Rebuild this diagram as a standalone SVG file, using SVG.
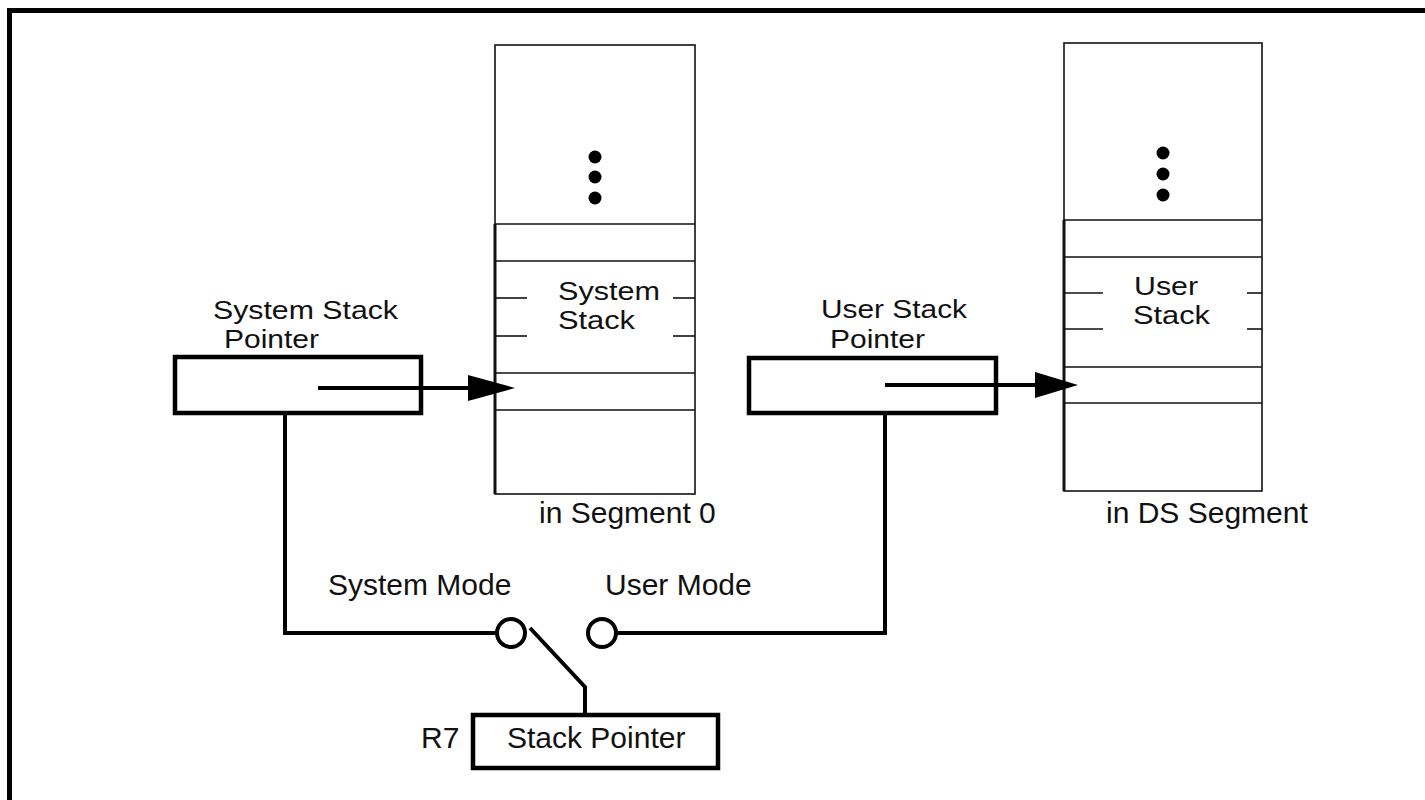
<svg xmlns="http://www.w3.org/2000/svg" width="1425" height="800" viewBox="0 0 1425 800">
<style>
text{font-family:"Liberation Sans",Arial,sans-serif;font-size:30px;fill:#111}
.tight{font-size:26.5px}
.thin{stroke:#111;stroke-width:1.6;fill:none}
.edge{stroke:#111;stroke-width:3;fill:none}
.box{stroke:#000;stroke-width:4.5;fill:#fff}
.wire{stroke:#000;stroke-width:4;fill:none}
.dot{fill:#000}
.head{fill:#000}
</style>
<rect x="9.5" y="10.5" width="1430" height="800" fill="#fff" stroke="#000" stroke-width="5"/>

<g id="system-stack">
<rect x="495" y="45" width="200" height="449" class="thin" fill="#fff"/>
<line x1="495" y1="224" x2="495" y2="494" class="edge"/>
<line x1="495" y1="224" x2="695" y2="224" class="thin"/>
<line x1="495" y1="261" x2="695" y2="261" class="thin"/>
<line x1="495" y1="373" x2="695" y2="373" class="thin"/>
<line x1="495" y1="410" x2="695" y2="410" class="thin"/>
<line x1="495" y1="298" x2="527" y2="298" class="thin"/>
<line x1="495" y1="336" x2="527" y2="336" class="thin"/>
<line x1="673" y1="298" x2="695" y2="298" class="thin"/>
<line x1="673" y1="336" x2="695" y2="336" class="thin"/>
<circle cx="595" cy="157" r="6.5" class="dot"/>
<circle cx="595" cy="177" r="6.5" class="dot"/>
<circle cx="595" cy="198" r="6.5" class="dot"/>
<text class="tight" x="558" y="300" textLength="102" lengthAdjust="spacingAndGlyphs">System</text>
<text class="tight" x="558" y="329" textLength="77" lengthAdjust="spacingAndGlyphs">Stack</text>
<text x="539" y="523">in Segment 0</text>
</g>

<g id="user-stack">
<rect x="1064" y="43" width="198" height="448" class="thin" fill="#fff"/>
<line x1="1064" y1="220" x2="1064" y2="491" class="edge"/>
<line x1="1064" y1="220" x2="1262" y2="220" class="thin"/>
<line x1="1064" y1="257" x2="1262" y2="257" class="thin"/>
<line x1="1064" y1="367" x2="1262" y2="367" class="thin"/>
<line x1="1064" y1="403" x2="1262" y2="403" class="thin"/>
<line x1="1064" y1="293" x2="1103" y2="293" class="thin"/>
<line x1="1064" y1="329" x2="1103" y2="329" class="thin"/>
<line x1="1247" y1="293" x2="1262" y2="293" class="thin"/>
<line x1="1247" y1="329" x2="1262" y2="329" class="thin"/>
<circle cx="1163" cy="153" r="6.5" class="dot"/>
<circle cx="1163" cy="174" r="6.5" class="dot"/>
<circle cx="1163" cy="195" r="6.5" class="dot"/>
<text class="tight" x="1134" y="295" textLength="64" lengthAdjust="spacingAndGlyphs">User</text>
<text class="tight" x="1133" y="324" textLength="77" lengthAdjust="spacingAndGlyphs">Stack</text>
<text x="1106" y="523">in DS Segment</text>
</g>

<g id="system-stack-pointer">
<rect x="175" y="357" width="246" height="56" class="box"/>
<text class="tight" x="213" y="319" textLength="185" lengthAdjust="spacingAndGlyphs">System Stack</text>
<text class="tight" x="224" y="348" textLength="95" lengthAdjust="spacingAndGlyphs">Pointer</text>
</g>

<g id="user-stack-pointer">
<rect x="749" y="358" width="247" height="55" class="box"/>
<text class="tight" x="821" y="318" textLength="146" lengthAdjust="spacingAndGlyphs">User Stack</text>
<text class="tight" x="830" y="348" textLength="95" lengthAdjust="spacingAndGlyphs">Pointer</text>
</g>

<g id="r7-stack-pointer">
<rect x="473" y="715" width="245" height="53" class="box"/>
<text x="507" y="748">Stack Pointer</text>
<text x="421" y="748">R7</text>
</g>

<g id="switch">
<circle cx="511" cy="633" r="14" fill="#fff" stroke="#000" stroke-width="4"/>
<circle cx="602" cy="633" r="14" fill="#fff" stroke="#000" stroke-width="4"/>
<text x="328" y="595">System Mode</text>
<text x="605" y="595">User Mode</text>
</g>

<g id="connectors">
<line x1="318" y1="388" x2="470" y2="388" class="wire" stroke-width="3.5"/>
<polygon points="468,375 515,388 468,401" class="head"/>
<line x1="885" y1="385" x2="1037" y2="385" class="wire" stroke-width="3.5"/>
<polygon points="1035,372 1078,385 1035,398" class="head"/>
<polyline points="285,413 285,633 497,633" class="wire"/>
<polyline points="885,413 885,633 616,633" class="wire"/>
<polyline points="530,628 585,687 585,715" class="wire"/>
</g>
</svg>
